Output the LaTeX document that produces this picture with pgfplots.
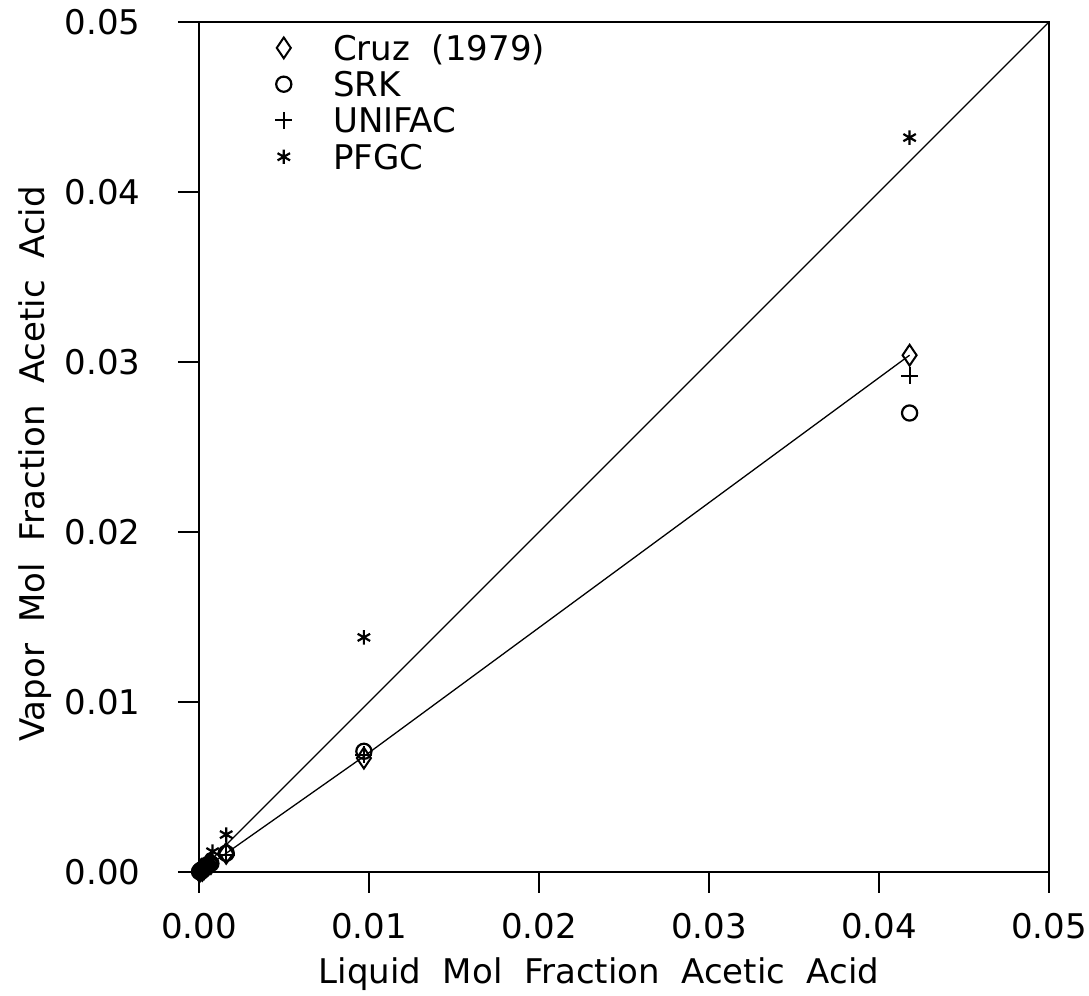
\documentclass[border=0pt]{standalone}
\usepackage{fontspec}
\setmainfont{DejaVu Sans}
\usepackage{pgfplots}
\pgfplotsset{compat=1.18}
\newcommand{\ff}{\fontsize{17}{20}\selectfont}
\begin{document}
\ff
\begin{tikzpicture}
\begin{axis}[
  at={(0,0)}, anchor=south west,
  scale only axis, width=425pt, height=425pt,
  xmin=0, xmax=0.05, ymin=0, ymax=0.05,
  xtick={0,0.01,0.02,0.03,0.04,0.05},
  ytick={0,0.01,0.02,0.03,0.04,0.05},
  xtick pos=bottom, ytick pos=left,
  tick align=outside, major tick length=10.5pt,
  scaled ticks=false,
  tick label style={font=\ff, /pgf/number format/fixed, /pgf/number format/fixed zerofill, /pgf/number format/precision=2, /pgf/number format/assume math mode=true},
  xticklabel style={inner sep=0pt, yshift=-10pt},
  yticklabel style={inner sep=0pt, xshift=-18.5pt},
  axis line style={line width=0.6pt},
  every tick/.style={black, line width=0.6pt},
  xlabel={Liquid~~Mol~~Fraction~~Acetic~~Acid},
  ylabel={Vapor~~Mol~~Fraction~~Acetic~~Acid},
  xlabel style={font=\ff, at={(axis description cs:0.4706,-0.1)}, anchor=north, inner sep=0pt},
  ylabel style={font=\ff, at={(axis description cs:-0.213,0.48)}, anchor=north, inner sep=0pt},
  legend cell align=left,
  legend image code/.code={\draw[#1] plot coordinates {(6pt,0pt)}; \path (0pt,0pt) (12pt,0pt);},
  legend style={draw=none, fill=none, font=\ff, at={(axis description cs:0.0847,0.9846)}, anchor=north west, inner sep=0pt,
    row sep=5.75pt, column sep=18.5pt, nodes={inner sep=0pt, text height=12.4pt, text depth=0pt}},
]
\addplot[black, line width=0.65pt, no marks, forget plot] coordinates {(0,0) (0.05,0.05)};
\addplot[black, line width=0.65pt, no marks, forget plot] coordinates {(0,0) (0.0016,0.0011) (0.0097,0.0068) (0.0418,0.0304)};
\addplot[only marks, black, mark=diamond, mark size=5.2pt, mark options={xscale=0.9, line width=1pt}] coordinates {
 (0.00003,0.00002) (0.0001,0.0001) (0.0002,0.0001) (0.0003,0.0002) (0.0004,0.0003) (0.0005,0.0004) (0.0007,0.0005) (0.0016,0.0011) (0.0097,0.0067) (0.0418,0.0304)};
\addlegendentry{Cruz~~(1979)}
\addplot[only marks, black, mark=o, mark size=3.8pt, mark options={line width=1.1pt}] coordinates {
 (0.00003,0.00002) (0.0001,0.0001) (0.0002,0.0001) (0.0003,0.0002) (0.0004,0.0003) (0.0005,0.0004) (0.0007,0.0005) (0.0016,0.0011) (0.0097,0.0071) (0.0418,0.0270)};
\addlegendentry{SRK}
\addplot[only marks, black, mark=+, mark size=4.2pt, mark options={line width=1pt}] coordinates {
 (0.00003,0.00002) (0.0001,0.0001) (0.0002,0.0001) (0.0003,0.0002) (0.0005,0.0004) (0.0007,0.0005) (0.0016,0.0010) (0.0097,0.0069) (0.0418,0.0292)};
\addlegendentry{UNIFAC}
\addplot[only marks, black, mark=asterisk, mark size=3.6pt, mark options={line width=1.1pt}] coordinates {
 (0.00003,0.00003) (0.0001,0.0001) (0.0002,0.0002) (0.0003,0.0003) (0.0005,0.0006) (0.0008,0.0012) (0.0016,0.0022) (0.0097,0.0138) (0.0418,0.0432)};
\addlegendentry{PFGC}
\end{axis}
\pgfresetboundingbox
\path[use as bounding box] (-99.5pt,-62pt) rectangle (445pt,436pt);
\end{tikzpicture}
\end{document}
